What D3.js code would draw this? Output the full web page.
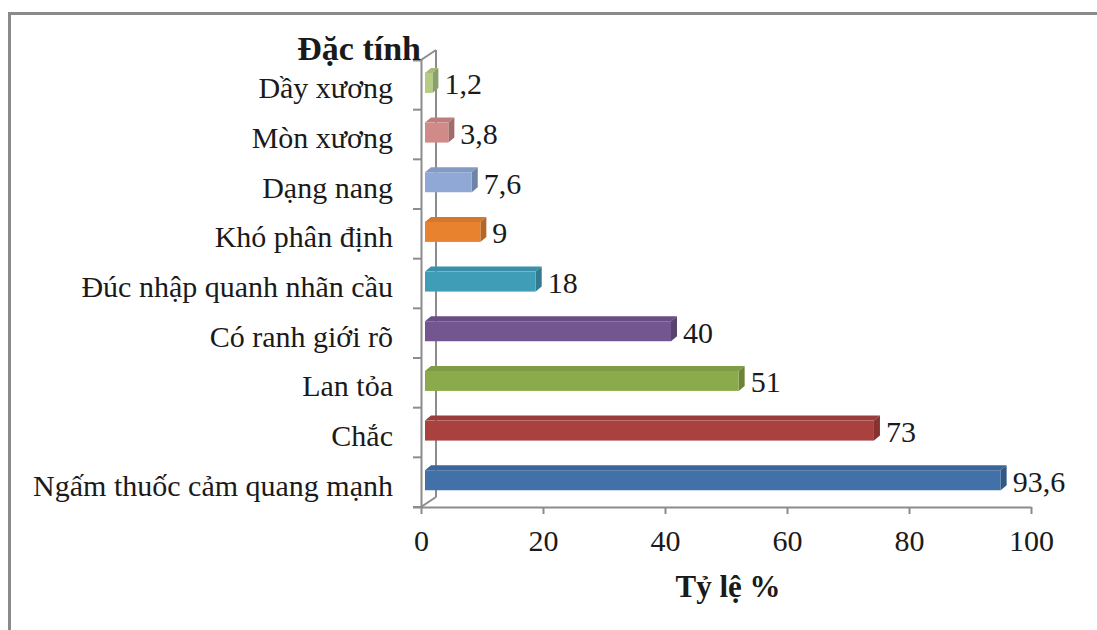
<!DOCTYPE html>
<html>
<head>
<meta charset="utf-8">
<script src="https://cdn.jsdelivr.net/npm/d3@7"></script>
<style>
  html, body { margin: 0; padding: 0; background: #fff; }
  svg { display: block; }
  text { font-family: "Liberation Serif", "Times New Roman", serif; fill: #1a1a1a; }
</style>
</head>
<body>
<svg id="chart" width="1097" height="630"></svg>
<script>
// Categories, top to bottom as drawn
const categories = [
  "Dầy xương",
  "Mòn xương",
  "Dạng nang",
  "Khó phân định",
  "Đúc nhập quanh nhãn cầu",
  "Có ranh giới rõ",
  "Lan tỏa",
  "Chắc",
  "Ngấm thuốc cảm quang mạnh"
];
const values = [1.2, 3.8, 7.6, 9, 18, 40, 51, 73, 93.6];
const valueLabels = ["1,2", "3,8", "7,6", "9", "18", "40", "51", "73", "93,6"];
const barColors = ["#B5CC85", "#D08A88", "#8FA8D6", "#E9822F", "#3F9DB8", "#73558F", "#8AAA4B", "#A9423F", "#4270A8"];
const xTicks = [0, 20, 40, 60, 80, 100];
const xTitle = "Tỷ lệ %";
const yTitle = "Đặc tính";

const svg = d3.select("#chart");
const fontSize = "30px";

// Outer frame (top and left edges)
svg.append("path")
  .attr("d", "M9.5,630 L9.5,13.5 L1097,13.5")
  .attr("fill", "none").attr("stroke", "#8a8a8a").attr("stroke-width", 3);

// Scales: the front axis plane and the plane where bars sit
const x = d3.scaleLinear().domain([0, 100]).range([421, 1031]);
const xBar = d3.scaleLinear().domain([0, 100]).range([425, 1040]);
const y = d3.scaleBand().domain(categories).range([60, 507]).padding(0);

const depthX = 15, depthY = 10;      // wall depth
const barDX = 6, barDY = 5;          // bar depth
const axisColor = "#8c8c8c";

// Left wall: back edge and connecting diagonals
const wall = svg.append("g").attr("stroke", axisColor).attr("stroke-width", 2).attr("fill", "none");
wall.append("line").attr("x1", x(0) + depthX).attr("y1", 60 - depthY).attr("x2", x(0) + depthX).attr("y2", 507 - depthY);
wall.append("line").attr("x1", x(0)).attr("y1", 60).attr("x2", x(0) + depthX).attr("y2", 60 - depthY);
wall.append("line").attr("x1", x(0)).attr("y1", 507).attr("x2", x(0) + depthX).attr("y2", 507 - depthY);

// Bars (front face, top face, end face)
function shade(c, k) { return d3.color(c)[k > 0 ? "brighter" : "darker"](Math.abs(k)).formatHex(); }
const bars = svg.append("g");
categories.forEach((c, i) => {
  const x0 = xBar(0), x1 = xBar(values[i]);
  const top = y(c) + y.bandwidth() * 0.26, h = 20;
  const g = bars.append("g");
  g.append("path")
    .attr("d", `M${x0},${top} L${x0 + barDX},${top - barDY} L${x1 + barDX},${top - barDY} L${x1},${top} Z`)
    .attr("fill", shade(barColors[i], -0.25));
  g.append("path")
    .attr("d", `M${x1},${top} L${x1 + barDX},${top - barDY} L${x1 + barDX},${top + h - barDY} L${x1},${top + h} Z`)
    .attr("fill", shade(barColors[i], -0.7));
  g.append("rect")
    .attr("x", x0).attr("y", top).attr("width", x1 - x0).attr("height", h)
    .attr("fill", barColors[i]);
  g.append("text")
    .attr("x", x1 + barDX + 6).attr("y", top + h / 2)
    .attr("dy", "0.38em")
    .style("font-size", fontSize)
    .text(valueLabels[i]);
});

// Category axis (front edge of the wall)
const yAxis = d3.axisLeft(y).tickSize(8).tickSizeOuter(8).tickPadding(20).tickFormat(d => d);
const gy = svg.append("g").attr("transform", `translate(${x(0)},0)`).call(yAxis);
gy.select(".domain").attr("stroke", axisColor).attr("stroke-width", 2);
gy.selectAll(".tick line").attr("stroke", axisColor).attr("stroke-width", 2)
  .attr("transform", `translate(0,${-y.bandwidth() / 2})`);
gy.selectAll(".tick text").style("font-size", fontSize).style("font-family", "Liberation Serif, serif")
  .attr("fill", "#1a1a1a").attr("dy", "0.45em");
// closing tick at the bottom of the band axis
gy.append("line").attr("x1", -8).attr("x2", 0).attr("y1", 507).attr("y2", 507)
  .attr("stroke", axisColor).attr("stroke-width", 2);

// Value axis
const xAxis = d3.axisBottom(x).tickValues(xTicks).tickSize(7).tickSizeOuter(0).tickPadding(16);
const gx = svg.append("g").attr("transform", "translate(0,507)").call(xAxis);
gx.select(".domain").attr("stroke", axisColor).attr("stroke-width", 2);
gx.selectAll(".tick line").attr("stroke", axisColor).attr("stroke-width", 2);
gx.selectAll(".tick text").style("font-size", fontSize).style("font-family", "Liberation Serif, serif")
  .attr("fill", "#1a1a1a");

// Axis titles
svg.append("text").attr("x", 728).attr("y", 597)
  .attr("text-anchor", "middle").style("font-size", "31px").style("font-weight", "bold")
  .text(xTitle);
svg.append("text").attr("x", 421).attr("y", 60)
  .attr("text-anchor", "end").style("font-size", "34px").style("font-weight", "bold")
  .text(yTitle);
</script>
</body>
</html>
